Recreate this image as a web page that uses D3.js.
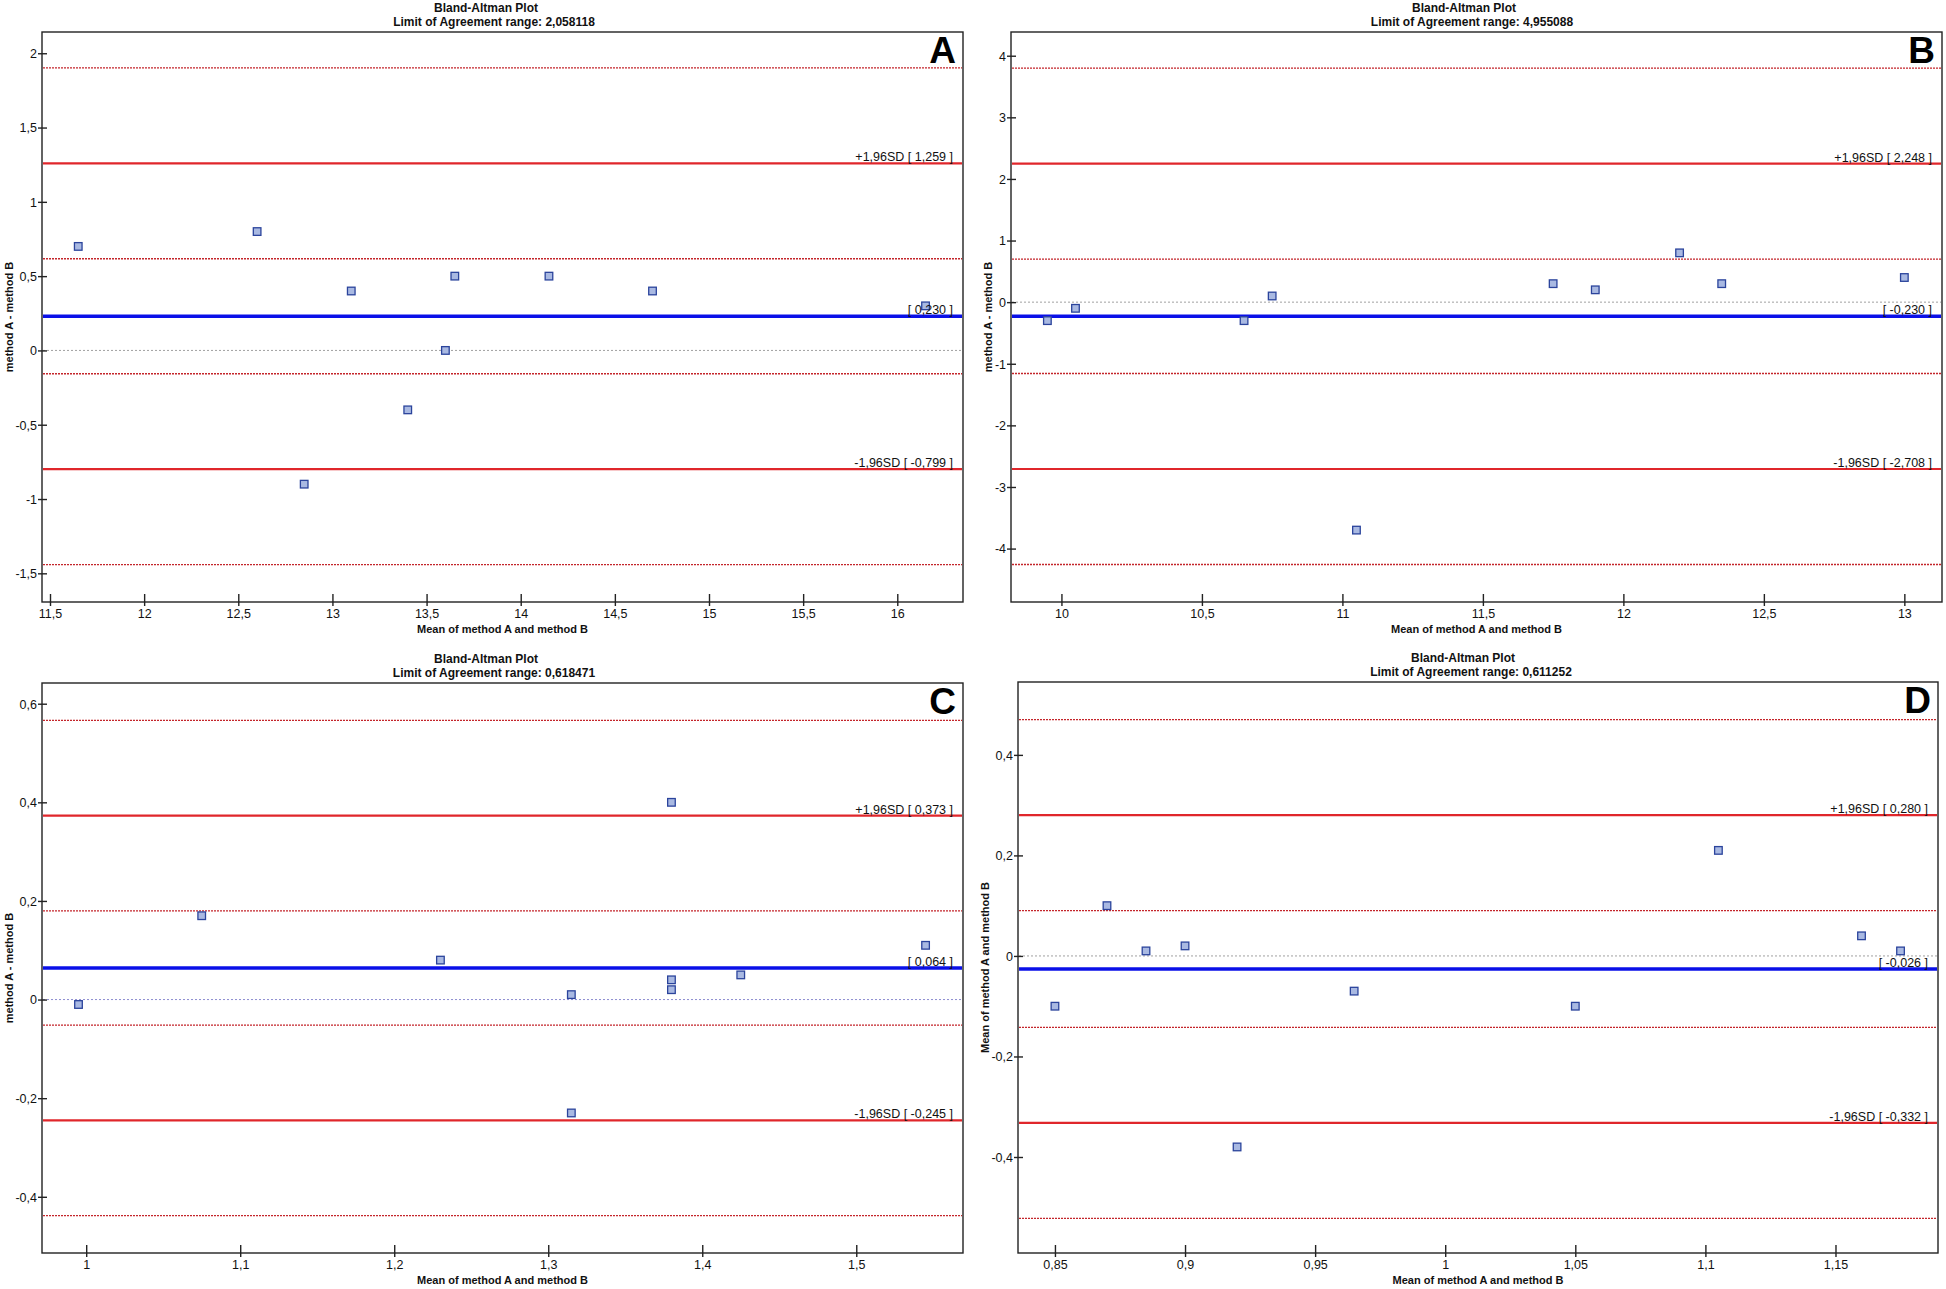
<!DOCTYPE html>
<html>
<head>
<meta charset="utf-8">
<script src="https://cdn.jsdelivr.net/npm/d3@7"></script>
<style>
  html, body { margin: 0; padding: 0; background: #fff; }
  svg { display: block; font-family: "Liberation Sans", Arial, sans-serif; }
</style>
</head>
<body>
<svg id="chart" width="1946" height="1289"></svg>
<script>
// ---------------- DATA ----------------
const panelLetters = ["A", "B", "C", "D"];
const loaRangeLabels = ["2,058118", "4,955088", "0,618471", "0,611252"];

// Points (mean of methods, difference)
const aMean = [11.65, 12.6, 12.85, 13.1, 13.4, 13.6, 13.65, 14.15, 14.7, 16.15];
const aDiff = [0.7, 0.8, -0.9, 0.4, -0.4, 0.0, 0.5, 0.5, 0.4, 0.3];
const bMean = [9.95, 10.05, 10.65, 10.75, 11.05, 11.75, 11.9, 12.2, 12.35, 13.0];
const bDiff = [-0.3, -0.1, -0.3, 0.1, -3.7, 0.3, 0.2, 0.8, 0.3, 0.4];
const cMean = [0.995, 1.075, 1.23, 1.315, 1.315, 1.38, 1.38, 1.38, 1.425, 1.545];
const cDiff = [-0.01, 0.17, 0.08, 0.01, -0.23, 0.40, 0.04, 0.02, 0.05, 0.11];
const dMean = [0.85, 0.87, 0.885, 0.90, 0.92, 0.965, 1.05, 1.105, 1.16, 1.175];
const dDiff = [-0.10, 0.10, 0.01, 0.02, -0.38, -0.07, -0.10, 0.21, 0.04, 0.01];

// Reference lines
const biasValues = [0.230, -0.230, 0.064, -0.026];
const upperLoA = [1.259, 2.248, 0.373, 0.280];
const lowerLoA = [-0.799, -2.708, -0.245, -0.332];
const upperLoACI = [[1.901, 0.617], [3.80, 0.698], [0.566, 0.180], [0.470, 0.090]];
const lowerLoACI = [[-0.157, -1.441], [-1.158, -4.258], [-0.052, -0.438], [-0.142, -0.522]];
const biasLabels = ["[ 0,230 ]", "[ -0,230 ]", "[ 0,064 ]", "[ -0,026 ]"];
const upperLabels = ["+1,96SD [ 1,259 ]", "+1,96SD [ 2,248 ]", "+1,96SD [ 0,373 ]", "+1,96SD [ 0,280 ]"];
const lowerLabels = ["-1,96SD [ -0,799 ]", "-1,96SD [ -2,708 ]", "-1,96SD [ -0,245 ]", "-1,96SD [ -0,332 ]"];

// Tick values
const aXTicks = [11.5, 12, 12.5, 13, 13.5, 14, 14.5, 15, 15.5, 16];
const aYTicks = [-1.5, -1, -0.5, 0, 0.5, 1, 1.5, 2];
const bXTicks = [10, 10.5, 11, 11.5, 12, 12.5, 13];
const bYTicks = [-4, -3, -2, -1, 0, 1, 2, 3, 4];
const cXTicks = [1, 1.1, 1.2, 1.3, 1.4, 1.5];
const cYTicks = [-0.4, -0.2, 0, 0.2, 0.4, 0.6];
const dXTicks = [0.85, 0.9, 0.95, 1, 1.05, 1.1, 1.15];
const dYTicks = [-0.4, -0.2, 0, 0.2, 0.4];

const xAxisTitles = ["Mean of method A and method B", "Mean of method A and method B", "Mean of method A and method B", "Mean of method A and method B"];
const yAxisTitles = ["method A - method B", "method A - method B", "method A - method B", "Mean of method A and method B"];

// ---------------- LAYOUT ----------------
const panels = [
  { mean: aMean, diff: aDiff, xT: aXTicks, yT: aYTicks, xd: [11.4575, 16.349], yd: [-1.693, 2.143],
    box: { l: 42, r: 963, t: 32, b: 602 }, titleX: 486, yTitleX: 13, zeroColor: "#a0a0a0" },
  { mean: bMean, diff: bDiff, xT: bXTicks, yT: bYTicks, xd: [9.8205, 13.134], yd: [-4.867, 4.385],
    box: { l: 1011, r: 1942, t: 32, b: 602 }, titleX: 1464, yTitleX: 992, zeroColor: "#a0a0a0" },
  { mean: cMean, diff: cDiff, xT: cXTicks, yT: cYTicks, xd: [0.9713, 1.5693], yd: [-0.514, 0.642],
    box: { l: 42, r: 963, t: 683, b: 1253 }, titleX: 486, yTitleX: 13, zeroColor: "#8c8cd0" },
  { mean: dMean, diff: dDiff, xT: dXTicks, yT: dYTicks, xd: [0.8358, 1.1894], yd: [-0.591, 0.545],
    box: { l: 1018, r: 1938, t: 682, b: 1253 }, titleX: 1463, yTitleX: 989, zeroColor: "#a0a0a0" }
];

const fmt = v => String(+v.toFixed(3)).replace(".", ",");
const svg = d3.select("#chart");

panels.forEach((p, i) => {
  const B = p.box;
  const x = d3.scaleLinear().domain(p.xd).range([B.l, B.r]);
  const y = d3.scaleLinear().domain(p.yd).range([B.b, B.t]);
  const g = svg.append("g");

  // titles
  g.append("text").attr("x", p.titleX).attr("y", B.t - 20).attr("text-anchor", "middle")
    .attr("font-size", 12).attr("font-weight", "bold").attr("fill", "#111").text("Bland-Altman Plot");
  g.append("text").attr("x", p.titleX + 8).attr("y", B.t - 6).attr("text-anchor", "middle")
    .attr("font-size", 12).attr("font-weight", "bold").attr("fill", "#111")
    .text("Limit of Agreement range: " + loaRangeLabels[i]);

  // horizontal reference lines
  const hline = (v, color, w, dash) => g.append("line")
    .attr("x1", B.l + 1).attr("x2", B.r - 1).attr("y1", y(v)).attr("y2", y(v))
    .attr("stroke", color).attr("stroke-width", w).attr("stroke-dasharray", dash || null);

  hline(0, p.zeroColor, 1, "2,2");
  upperLoACI[i].concat(lowerLoACI[i]).forEach(v => hline(v, "#c4252b", 1.3, "2,1"));
  hline(upperLoA[i], "#e0262b", 2.2);
  hline(lowerLoA[i], "#e0262b", 2.2);
  hline(biasValues[i], "#0a10e8", 3.6);

  // points
  g.selectAll("rect.pt").data(p.mean.map((m, k) => [m, p.diff[k]])).enter().append("rect")
    .attr("class", "pt")
    .attr("x", d => x(d[0]) - 3.8).attr("y", d => y(d[1]) - 3.8)
    .attr("width", 7.6).attr("height", 7.6)
    .attr("fill", "#a9b9e2").attr("stroke", "#2b449c").attr("stroke-width", 1.3);

  // line labels
  const lab = (v, t) => g.append("text").attr("x", B.r - 10).attr("y", y(v) - 2)
    .attr("text-anchor", "end").attr("font-size", 12.5).attr("fill", "#111").text(t);
  lab(upperLoA[i], upperLabels[i]);
  lab(biasValues[i], biasLabels[i]);
  lab(lowerLoA[i], lowerLabels[i]);

  // frame
  g.append("rect").attr("x", B.l).attr("y", B.t).attr("width", B.r - B.l).attr("height", B.b - B.t)
    .attr("fill", "none").attr("stroke", "#222").attr("stroke-width", 1.4);

  // x axis
  const xa = g.append("g").attr("transform", `translate(0,${B.b})`)
    .call(d3.axisBottom(x).tickValues(p.xT).tickFormat(fmt).tickSize(0));
  xa.select(".domain").remove();
  xa.selectAll(".tick line").attr("y1", -8).attr("y2", 4).attr("stroke", "#222").attr("stroke-width", 1.4);
  xa.selectAll(".tick text").attr("y", 16).attr("dy", 0).attr("font-size", 12.5)
    .attr("font-family", "Liberation Sans, Arial, sans-serif").attr("fill", "#111");

  // y axis
  const ya = g.append("g").attr("transform", `translate(${B.l},0)`)
    .call(d3.axisLeft(y).tickValues(p.yT).tickFormat(fmt).tickSize(0));
  ya.select(".domain").remove();
  ya.selectAll(".tick line").attr("x1", -4).attr("x2", 5).attr("stroke", "#222").attr("stroke-width", 1.4);
  ya.selectAll(".tick text").attr("x", -5).attr("dy", "0.35em").attr("font-size", 12.5)
    .attr("font-family", "Liberation Sans, Arial, sans-serif").attr("fill", "#111");

  // axis titles
  g.append("text").attr("x", (B.l + B.r) / 2).attr("y", B.b + 31).attr("text-anchor", "middle")
    .attr("font-size", 11).attr("font-weight", "bold").attr("fill", "#111").text(xAxisTitles[i]);
  g.append("text").attr("transform", `translate(${p.yTitleX},${(B.t + B.b) / 2}) rotate(-90)`)
    .attr("text-anchor", "middle").attr("font-size", 11).attr("font-weight", "bold").attr("fill", "#111")
    .text(yAxisTitles[i]);

  // panel letter
  g.append("text").attr("x", B.r - 7).attr("y", B.t + 31).attr("text-anchor", "end")
    .attr("font-size", 37).attr("font-weight", "bold").attr("fill", "#000").text(panelLetters[i]);
});
</script>
</body>
</html>
